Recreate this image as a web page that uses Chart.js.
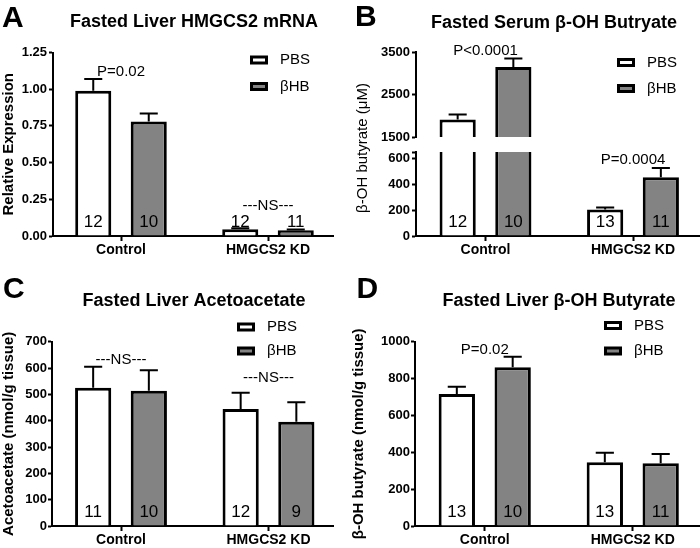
<!DOCTYPE html>
<html><head><meta charset="utf-8">
<script src="https://cdn.jsdelivr.net/npm/chart.js@4.4.1/dist/chart.umd.min.js"></script>
<style>
html,body{margin:0;padding:0;background:#fff;width:700px;height:548px;overflow:hidden;position:relative;}
canvas{position:absolute;}
</style></head><body>
<canvas id="cA" width="350" height="270" style="left:0;top:0;width:350px;height:270px"></canvas>
<canvas id="cB1" width="350" height="270" style="left:350px;top:0;width:350px;height:270px"></canvas>
<canvas id="cB2" width="350" height="270" style="left:350px;top:0;width:350px;height:270px"></canvas>
<canvas id="cC" width="350" height="278" style="left:0;top:270px;width:350px;height:278px"></canvas>
<canvas id="cD" width="350" height="278" style="left:350px;top:270px;width:350px;height:278px"></canvas>
<script>
// ---------- data ----------
const categories = ["Control", "HMGCS2 KD"];
const seriesNames = ["PBS", "\u03B2HB"];

// A: Fasted Liver HMGCS2 mRNA (relative expression)
const aPBS = [0.99, 0.046];
const aPBSErr = [0.08, 0.007];
const aHB = [0.78, 0.04];
const aHBErr = [0.055, 0.005];
const aN_PBS = [12, 12];
const aN_HB = [10, 11];
const aTicks = [0, 0.25, 0.5, 0.75, 1.0, 1.25];

// B: Fasted Serum beta-OH butyrate (uM), broken axis
const bPBS = [1910, 205];
const bPBSErr = [120, 15];
const bHB = [3150, 455];
const bHBErr = [195, 72];
const bN_PBS = [12, 13];
const bN_HB = [10, 11];
const bTicksTop = [1500, 2500, 3500];
const bTicksBottom = [0, 200, 400, 600];
const bBreakLow = 650;   // top of the lower axis segment
const bBreakHigh = 1500; // bottom of the upper axis segment

// C: Fasted Liver Acetoacetate (nmol/g tissue)
const cPBS = [525, 444];
const cPBSErr = [80, 62];
const cHB = [514, 396];
const cHBErr = [78, 74];
const cN_PBS = [11, 12];
const cN_HB = [10, 9];
const cTicks = [0, 100, 200, 300, 400, 500, 600, 700];

// D: Fasted Liver beta-OH butyrate (nmol/g tissue)
const dPBS = [716, 346];
const dPBSErr = [40, 52];
const dHB = [861, 340];
const dHBErr = [58, 51];
const dN_PBS = [13, 13];
const dN_HB = [10, 11];
const dTicks = [0, 200, 400, 600, 800, 1000];

// ---------- drawing ----------
const FONT = '"Liberation Sans", Arial, Helvetica, sans-serif';
Chart.defaults.font.family = FONT;
Chart.defaults.color = '#000';
const GREY = '#838383';

const panelPlugin = {
  id: 'panel',
  afterDatasetsDraw(chart, args, o) {
    const ctx = chart.ctx, ys = chart.scales.y, xs = chart.scales.x, area = chart.chartArea;
    ctx.save();
    ctx.strokeStyle = '#000';
    ctx.fillStyle = '#000';
    chart.data.datasets.forEach((ds, di) => {
      const meta = chart.getDatasetMeta(di);
      meta.data.forEach((bar, i) => {
        const v = ds.data[i].y, e = ds.errors[i];
        if (v < ys.min || v > ys.max) return;
        const y0 = ys.getPixelForValue(v), y1 = ys.getPixelForValue(v + e);
        const half = bar.width / 4;
        ctx.lineWidth = 2;
        ctx.beginPath();
        ctx.moveTo(bar.x, y0); ctx.lineTo(bar.x, y1);
        ctx.moveTo(bar.x - half, y1); ctx.lineTo(bar.x + half, y1);
        ctx.stroke();
      });
    });
    if (o.showN) {
      ctx.font = '17px ' + FONT;
      ctx.textAlign = 'center'; ctx.textBaseline = 'middle';
      chart.data.datasets.forEach((ds, di) => {
        chart.getDatasetMeta(di).data.forEach((bar, i) => {
          ctx.fillText(String(ds.n[i]), bar.x, area.bottom - 13.5);
        });
      });
    }
    (o.notes || []).forEach(nt => {
      let top = Infinity, ok = true;
      chart.data.datasets.forEach(ds => {
        const v = ds.data[nt.g].y, e = ds.errors[nt.g];
        if (v + e < ys.min || v + e > ys.max) { if (v > ys.max) ok = false; return; }
        top = Math.min(top, ys.getPixelForValue(v + e));
      });
      if (!ok || !isFinite(top)) return;
      const y = Math.min(top - nt.dy, area.bottom - 30);
      ctx.font = '15px ' + FONT;
      ctx.textAlign = 'center'; ctx.textBaseline = 'middle';
      ctx.fillText(nt.text, xs.getPixelForValue(nt.g), y);
    });
    ctx.restore();
  },
  afterDraw(chart, args, o) {
    const ctx = chart.ctx;
    ctx.save();
    ctx.fillStyle = '#000';
    if (o.letter) {
      ctx.font = 'bold 30px ' + FONT;
      ctx.textAlign = 'left'; ctx.textBaseline = 'alphabetic';
      ctx.fillText(o.letter.text, o.letter.x, o.letter.y);
    }
    if (o.title) {
      ctx.font = 'bold 18px ' + FONT;
      ctx.textAlign = 'center'; ctx.textBaseline = 'alphabetic';
      ctx.fillText(o.title.text, o.title.x, o.title.y);
    }
    if (o.yTitle) {
      ctx.save();
      ctx.translate(o.yTitle.x, o.yTitle.y);
      ctx.rotate(-Math.PI / 2);
      ctx.font = o.yTitle.font + ' ' + FONT;
      ctx.textAlign = 'center'; ctx.textBaseline = 'middle';
      ctx.fillText(o.yTitle.text, 0, 0);
      ctx.restore();
    }
    if (o.legend) {
      const L = o.legend;
      chart.data.datasets.forEach((ds, i) => {
        const cy = L.y + i * L.gap;
        ctx.fillStyle = '#000';
        ctx.fillRect(L.x, cy - 4.5, 18, 9);
        ctx.fillStyle = ds.backgroundColor;
        ctx.fillRect(L.x + 3, cy - 1.5, 12, 3);
        ctx.fillStyle = '#000';
        ctx.font = '15px ' + FONT;
        ctx.textAlign = 'left'; ctx.textBaseline = 'middle';
        ctx.fillText(ds.label, L.x + 30, cy);
      });
    }
    ctx.restore();
  }
};

function xRange(left, right, c0, c1) {
  const u = c1 - c0;
  return [(left - c0) / u, (right - c0) / u];
}

function makeChart(id, c) {
  const [xMin, xMax] = xRange(c.left, c.right, c.c0, c.c1);
  const mk = (label, vals, errs, ns, bg) => ({
    label: label,
    data: vals.map((v, i) => ({ x: i, y: v })),
    errors: errs, n: ns,
    backgroundColor: bg, borderColor: '#000', borderWidth: 3,
    borderSkipped: 'start', clip: 0
  });
  const labelled = new Set(c.yTicks);
  const allTicks = c.yTicks.concat(c.extraTicks || []);
  return new Chart(document.getElementById(id), {
    type: 'bar',
    data: { datasets: [
      mk(seriesNames[0], c.pbs, c.pbsErr, c.nPbs, '#ffffff'),
      mk(seriesNames[1], c.hb, c.hbErr, c.nHb, GREY)
    ]},
    options: {
      responsive: false, animation: false, devicePixelRatio: 1,
      layout: { padding: { top: c.padTop, right: c.padRight, bottom: c.padBottom || 0, left: 0 } },
      datasets: { bar: { categoryPercentage: 0.755, barPercentage: 0.65, grouped: true } },
      plugins: {
        legend: { display: false }, tooltip: { enabled: false }, title: { display: false },
        panel: c.panel
      },
      scales: {
        x: {
          type: 'linear', display: c.showX, min: xMin, max: xMax, offset: false, grace: 0,
          afterBuildTicks: s => { s.ticks = categories.map((_, i) => ({ value: i })); },
          ticks: { callback: v => categories[v], font: { family: FONT, size: 14, weight: 'bold' }, color: '#000', padding: 1, autoSkip: false, maxRotation: 0, minRotation: 0 },
          grid: { display: true, offset: false, drawOnChartArea: false, drawTicks: true, tickLength: 5, tickWidth: 2, tickColor: '#000', color: '#000' },
          border: { display: true, color: '#000', width: 2 },
          afterFit: s => { if (c.showX) s.height = c.xHeight; }
        },
        y: {
          type: 'linear', min: c.yMin, max: c.yMax,
          afterBuildTicks: s => { s.ticks = allTicks.map(v => ({ value: v })); },
          ticks: { callback: v => labelled.has(v) ? (c.fmt ? c.fmt(v) : String(v)) : '', font: { family: FONT, size: 13, weight: 'bold' }, color: '#000', padding: c.yPad, autoSkip: false },
          grid: { display: true, drawOnChartArea: false, drawTicks: true, tickLength: 4, tickWidth: 2, tickColor: '#000', color: '#000' },
          border: { display: true, color: '#000', width: 2 },
          title: c.yTitle ? { display: true, text: c.yTitle, font: { family: FONT, size: 15, weight: 'bold' }, color: '#000', padding: { top: 0, bottom: 0 } } : { display: false },
          afterFit: s => { s.width = c.yWidth; }
        }
      }
    },
    plugins: [panelPlugin]
  });
}

// Panel A
makeChart('cA', {
  pbs: aPBS, pbsErr: aPBSErr, nPbs: aN_PBS, hb: aHB, hbErr: aHBErr, nHb: aN_HB,
  left: 53, right: 333, c0: 121, c1: 268,
  padTop: 52.5, padRight: 17, xHeight: 34, showX: true,
  yMin: 0, yMax: 1.25, yTicks: aTicks, fmt: v => v.toFixed(2), yPad: 2, yWidth: 53,
  yTitle: 'Relative Expression',
  panel: {
    showN: true,
    notes: [{ g: 0, text: 'P=0.02', dy: 7 }, { g: 1, text: '---NS---', dy: 7 }],
    letter: { text: 'A', x: 2, y: 26.7 },
    title: { text: 'Fasted Liver HMGCS2 mRNA', x: 194, y: 26.5 },
    legend: { x: 250, y: 60, gap: 26.5 }
  }
});

// Panel B (upper segment)
makeChart('cB1', {
  pbs: bPBS, pbsErr: bPBSErr, nPbs: bN_PBS, hb: bHB, hbErr: bHBErr, nHb: bN_HB,
  left: 66, right: 349, c0: 135.5, c1: 283,
  padTop: 52, padRight: 1, padBottom: 133, showX: false,
  yMin: bBreakHigh, yMax: 3500, yTicks: bTicksTop, yPad: 2, yWidth: 66,
  panel: {
    showN: false,
    notes: [{ g: 0, text: 'P<0.0001', dy: 8 }],
    letter: { text: 'B', x: 5, y: 26 },
    title: { text: 'Fasted Serum \u03B2-OH Butryate', x: 204, y: 28 },
    yTitle: { text: '\u03B2-OH butyrate (\u03BCM)', x: 13, y: 148, font: '15px' },
    legend: { x: 267, y: 62.5, gap: 26 }
  }
});
// Panel B (lower segment)
makeChart('cB2', {
  pbs: bPBS, pbsErr: bPBSErr, nPbs: bN_PBS, hb: bHB, hbErr: bHBErr, nHb: bN_HB,
  left: 66, right: 349, c0: 135.5, c1: 283,
  padTop: 152, padRight: 1, xHeight: 34, showX: true,
  yMin: 0, yMax: bBreakLow, yTicks: bTicksBottom, extraTicks: [bBreakLow], yPad: 2, yWidth: 66,
  panel: {
    showN: true,
    notes: [{ g: 1, text: 'P=0.0004', dy: 8 }]
  }
});

// Panel C
makeChart('cC', {
  pbs: cPBS, pbsErr: cPBSErr, nPbs: cN_PBS, hb: cHB, hbErr: cHBErr, nHb: cN_HB,
  left: 52, right: 333, c0: 121, c1: 268.5,
  padTop: 71.7, padRight: 17, xHeight: 22, showX: true,
  yMin: 0, yMax: 700, yTicks: cTicks, yPad: 1, yWidth: 52,
  yTitle: 'Acetoacetate (nmol/g tissue)',
  panel: {
    showN: true,
    notes: [{ g: 0, text: '---NS---', dy: 7 }, { g: 1, text: '---NS---', dy: 15 }],
    letter: { text: 'C', x: 3, y: 28 },
    title: { text: 'Fasted Liver Acetoacetate', x: 194, y: 35.5 },
    legend: { x: 237, y: 57, gap: 24 }
  }
});

// Panel D
makeChart('cD', {
  pbs: dPBS, pbsErr: dPBSErr, nPbs: dN_PBS, hb: dHB, hbErr: dHBErr, nHb: dN_HB,
  left: 65, right: 349, c0: 134.75, c1: 282.75,
  padTop: 71.7, padRight: 1, xHeight: 22, showX: true,
  yMin: 0, yMax: 1000, yTicks: dTicks, yPad: 1, yWidth: 65,
  yTitle: '\u03B2-OH butyrate (nmol/g tissue)',
  panel: {
    showN: true,
    notes: [{ g: 0, text: 'P=0.02', dy: 7 }],
    letter: { text: 'D', x: 6.5, y: 28 },
    title: { text: 'Fasted Liver \u03B2-OH Butyrate', x: 209, y: 35.5 },
    legend: { x: 254, y: 55.5, gap: 25.5 }
  }
});
</script>
</body></html>
